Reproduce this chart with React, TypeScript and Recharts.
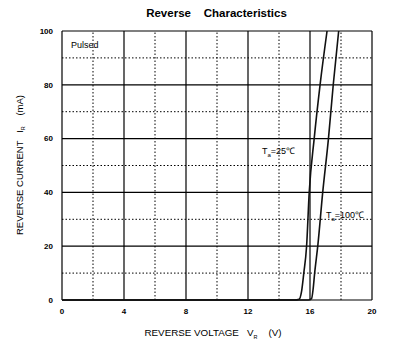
import React from "react";
import { LineChart, Line, XAxis, YAxis, ReferenceLine } from "recharts";

// Reverse characteristics (VR vs IR), pulsed
const X_TICKS = [0, 4, 8, 12, 16, 20];
const Y_TICKS = [0, 20, 40, 60, 80, 100];
const X_MINOR = [2, 6, 10, 14, 18];
const Y_MINOR = [10, 30, 50, 70, 90];

const VR_25 = [0, 15.0, 15.3, 15.45, 15.6, 15.78, 15.95, 16.27, 16.65, 17.1];
const IR_25 = [0, 0, 0.3, 3, 10, 20, 40, 60, 80, 100];
const VR_100 = [0, 15.9, 16.1, 16.2, 16.3, 16.5, 16.82, 17.19, 17.5, 17.85];
const IR_100 = [0, 0, 0.5, 4, 10, 20, 40, 60, 80, 100];

const curve25 = VR_25.map((v, i) => ({ v, i: IR_25[i] }));
const curve100 = VR_100.map((v, i) => ({ v, i: IR_100[i] }));

const FONT = "'Liberation Sans', Arial, sans-serif";
const TICK = { fontSize: 8, fill: "#000", fontFamily: FONT, fontWeight: 700 };

export default function App() {
  return (
    <div style={{ position: "absolute", left: 0, top: 0, width: 393, height: 352, background: "#fff", fontFamily: FONT }}>
      <LineChart width={393} height={352} margin={{ top: 31, right: 21, left: 32, bottom: 22 }}>
        <XAxis
          type="number"
          dataKey="v"
          domain={[0, 20]}
          ticks={X_TICKS}
          tick={TICK}
          tickLine={false}
          axisLine={false}
          height={30}
          tickMargin={2}
        />
        <YAxis
          type="number"
          dataKey="i"
          domain={[0, 100]}
          ticks={Y_TICKS}
          tick={TICK}
          tickLine={false}
          axisLine={false}
          width={30}
          tickMargin={3}
        />
        {X_MINOR.map((x) => (
          <ReferenceLine key={"xm" + x} x={x} stroke="#000" strokeDasharray="1.5 2" />
        ))}
        {Y_MINOR.map((y) => (
          <ReferenceLine key={"ym" + y} y={y} stroke="#000" strokeDasharray="1.5 2" />
        ))}
        {X_TICKS.map((x) => (
          <ReferenceLine key={"x" + x} x={x} stroke="#000" strokeWidth={1.2} />
        ))}
        {Y_TICKS.map((y) => (
          <ReferenceLine key={"y" + y} y={y} stroke="#000" strokeWidth={1.2} />
        ))}
        <Line data={curve25} dataKey="i" type="monotone" stroke="#111" strokeWidth={1.6} dot={false} isAnimationActive={false} />
        <Line data={curve100} dataKey="i" type="monotone" stroke="#111" strokeWidth={1.6} dot={false} isAnimationActive={false} />
      </LineChart>

      <div style={{ position: "absolute", left: 0, width: 433, top: 7, textAlign: "center", fontSize: 11.5, fontWeight: 700, whiteSpace: "pre" }}>
        {"Reverse    Characteristics"}
      </div>
      <div style={{ position: "absolute", left: 71, top: 40, fontSize: 9 }}>Pulsed</div>
      <div style={{ position: "absolute", left: 262, top: 144, fontSize: 9, whiteSpace: "pre" }}>
        T<sub style={{ fontSize: 6 }}>a</sub>=25℃
      </div>
      <div style={{ position: "absolute", left: 326, top: 208, fontSize: 9, whiteSpace: "pre" }}>
        T<sub style={{ fontSize: 6 }}>a</sub>=100℃
      </div>
      <div style={{ position: "absolute", left: 0, width: 426, top: 327, textAlign: "center", fontSize: 9.8, whiteSpace: "pre" }}>
        {"REVERSE VOLTAGE   V"}
        <sub style={{ fontSize: 5.5 }}>R</sub>
        {"    (V)"}
      </div>
      <div
        style={{
          position: "absolute",
          left: 20,
          top: 165,
          transform: "translate(-50%, -50%) rotate(-90deg)",
          fontSize: 9.5,
          whiteSpace: "pre",
        }}
      >
        {"REVERSE CURRENT   I"}
        <sub style={{ fontSize: 5.5 }}>R</sub>
        {"    (mA)"}
      </div>
    </div>
  );
}
